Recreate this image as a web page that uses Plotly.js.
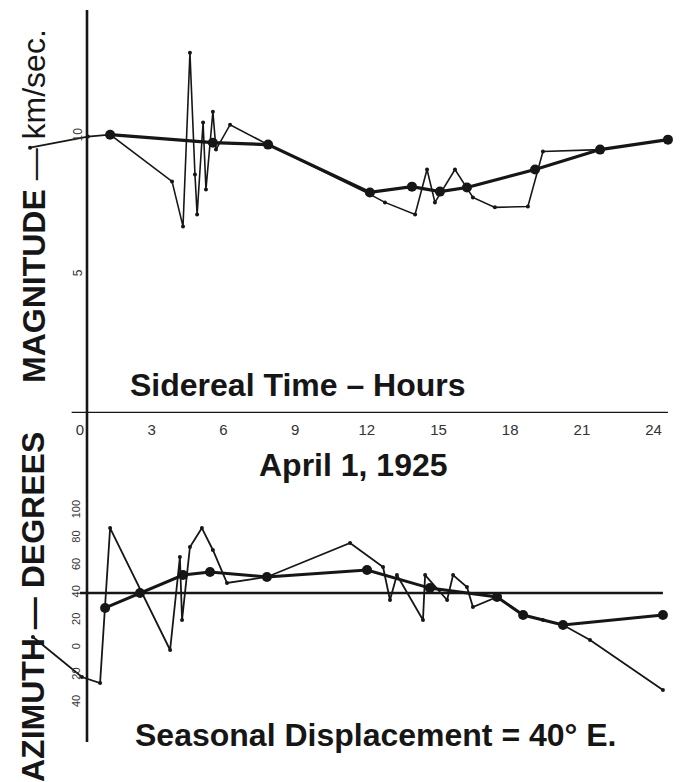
<!DOCTYPE html>
<html>
<head>
<meta charset="utf-8">
<script src="https://cdn.plot.ly/plotly-3.0.1.min.js"></script>
<style>html,body{margin:0;padding:0;background:#fff;}#chart{width:686px;height:782px;}</style>
</head>
<body>
<div id="chart"></div>
<script>
// ---- Data ----
// Sidereal time, hours
var hourTicks = [0, 3, 6, 9, 12, 15, 18, 21, 24];
var hourTickText = ["0", "3", "6", "9", "12", "15", "18", "21", "24"];

// Magnitude, km/sec - individual readings (thin line)
var magObsHours = [-2.09, 0.33, 1.26, 3.85, 4.31, 4.60, 4.81, 4.90, 5.15, 5.27, 5.56, 5.69, 6.28, 7.87, 12.13, 12.76, 14.02, 14.52, 14.85, 15.69, 16.44, 17.36, 18.74, 19.37, 21.76, 24.60];
var magObs      = [9.60, 10.0, 10.07, 8.38, 6.75, 13.03, 8.63, 7.18, 10.51, 8.09, 10.90, 9.53, 10.43, 9.71, 7.91, 7.62, 7.18, 8.81, 7.62, 8.81, 7.80, 7.44, 7.47, 9.46, 9.53, 9.89];

// Magnitude, km/sec - mean curve (thick line, large dots)
var magMeanHours = [1.26, 5.56, 7.87, 12.13, 13.89, 15.06, 16.19, 19.04, 21.76, 24.60];
var magMean      = [10.07, 9.78, 9.71, 7.98, 8.19, 8.01, 8.16, 8.81, 9.53, 9.89];
var magTicks = [5, 10];
var magTickText = ["5", "10"];

// Azimuth, degrees - individual readings (thin line)
var azObsHours = [-1.97, 0.08, 0.84, 1.26, 3.77, 4.18, 4.27, 4.60, 5.10, 5.56, 6.15, 7.82, 11.30, 12.68, 12.97, 13.26, 14.35, 14.44, 15.36, 15.61, 16.19, 16.44, 17.45, 18.54, 19.37, 20.21, 21.34, 24.39];
var azObs      = [7.9, -21.3, -25.7, 87.4, -1.6, 66.3, 20.3, 73.6, 87.4, 71.4, 47.3, 51.7, 76.5, 59.0, 34.9, 53.1, 20.3, 53.1, 34.9, 53.1, 44.4, 29.8, 37.1, 23.9, 20.3, 16.6, 5.7, -30.8];

// Azimuth, degrees - mean curve (thick line, large dots)
var azMeanHours = [1.05, 2.51, 4.31, 5.44, 7.82, 12.01, 14.64, 17.45, 18.54, 20.21, 24.39];
var azMean      = [29.1, 40.0, 53.1, 55.3, 51.7, 56.8, 43.6, 37.1, 23.9, 16.6, 23.9];

// Seasonal displacement reference line
var displacementDeg = 40;
var displacementHours = [0, 24.39];
var azTicks = [100, 80, 60, 40, 20, 0, -20, -40];
var azTickText = ["100", "80", "60", "40", "20", "0", "20", "40"];

// ---- Layout helpers (pixel -> paper) ----
var W = 686, H = 782;
function px(x) { return x / W; }
function py(y) { return 1 - y / H; }

var ink = "#161616";
var fontFam = "Liberation Sans, Arial, sans-serif";

var traces = [
  { x: magObsHours, y: magObs, xaxis: "x", yaxis: "y", mode: "lines+markers",
    line: { color: ink, width: 1.6 }, marker: { color: ink, size: 4 } },
  { x: magMeanHours, y: magMean, xaxis: "x", yaxis: "y", mode: "lines+markers",
    line: { color: ink, width: 3.2 }, marker: { color: ink, size: 10 } },
  { x: displacementHours, y: displacementHours.map(function () { return displacementDeg; }),
    xaxis: "x2", yaxis: "y2", mode: "lines", line: { color: ink, width: 2.6 } },
  { x: azObsHours, y: azObs, xaxis: "x2", yaxis: "y2", mode: "lines+markers",
    line: { color: ink, width: 1.8 }, marker: { color: ink, size: 4 } },
  { x: azMeanHours, y: azMean, xaxis: "x2", yaxis: "y2", mode: "lines+markers",
    line: { color: ink, width: 3 }, marker: { color: ink, size: 10 } }
];

var xRange = [-80 / 23.9, 606 / 23.9];

var layout = {
  width: W, height: H,
  margin: { l: 0, r: 0, t: 0, b: 0, pad: 0 },
  paper_bgcolor: "#fff", plot_bgcolor: "rgba(0,0,0,0)",
  showlegend: false,
  font: { family: fontFam, color: ink },
  xaxis: {
    domain: [0, 1], range: xRange, anchor: "y",
    tickmode: "array", tickvals: hourTicks, ticktext: hourTickText,
    showgrid: false, zeroline: false, showline: false, ticks: "",
    ticklabelstandoff: 6,
    tickfont: { family: fontFam, size: 15, color: "#333" }
  },
  yaxis: {
    domain: [py(413), py(10)], range: [0, 403 / 27.64], anchor: "free", position: px(86),
    tickmode: "array", tickvals: magTicks, ticktext: magTickText, tickangle: -90,
    showgrid: false, zeroline: false, showline: false, ticks: "",
    ticklabelstandoff: 2,
    tickfont: { family: fontFam, size: 12, color: "#333" }
  },
  xaxis2: {
    domain: [0, 1], range: xRange, anchor: "y2", visible: false
  },
  yaxis2: {
    domain: [py(760), py(480)], range: [40 - 167 / 1.37, 40 + 113 / 1.37], anchor: "free", position: px(84),
    tickmode: "array", tickvals: azTicks, ticktext: azTickText, tickangle: -90,
    showgrid: false, zeroline: false, showline: false, ticks: "",
    ticklabelstandoff: 2,
    tickfont: { family: fontFam, size: 11, color: "#333" }
  },
  shapes: [
    { type: "line", xref: "paper", yref: "paper", x0: px(87), x1: px(87), y0: py(742), y1: py(10),
      line: { color: ink, width: 2.6 } },
    { type: "line", xref: "x", yref: "y", x0: -0.35, x1: 24.6, y0: 0, y1: 0,
      line: { color: ink, width: 2.6 } }
  ],
  annotations: [
    { xref: "paper", yref: "paper", x: px(34), y: py(206), xanchor: "center", yanchor: "middle",
      textangle: -90, showarrow: false,
      text: "<b>MAGNITUDE</b> — km/sec.", font: { family: fontFam, size: 32, color: ink } },
    { xref: "paper", yref: "paper", x: px(33), y: py(607), xanchor: "center", yanchor: "middle",
      textangle: -90, showarrow: false,
      text: "<b>AZIMUTH — DEGREES</b>", font: { family: fontFam, size: 32, color: ink } },
    { xref: "paper", yref: "paper", x: px(298), y: py(385), xanchor: "center", yanchor: "middle",
      showarrow: false, text: "<b>Sidereal Time – Hours</b>", font: { family: fontFam, size: 32, color: ink } },
    { xref: "paper", yref: "paper", x: px(353), y: py(465), xanchor: "center", yanchor: "middle",
      showarrow: false, text: "<b>April 1, 1925</b>", font: { family: fontFam, size: 32, color: ink } },
    { xref: "paper", yref: "paper", x: px(375), y: py(735), xanchor: "center", yanchor: "middle",
      showarrow: false, text: "<b>Seasonal Displacement = 40° E.</b>", font: { family: fontFam, size: 32, color: ink } }
  ]
};

Plotly.newPlot("chart", traces, layout, { displayModeBar: false, staticPlot: true });
</script>
</body>
</html>
